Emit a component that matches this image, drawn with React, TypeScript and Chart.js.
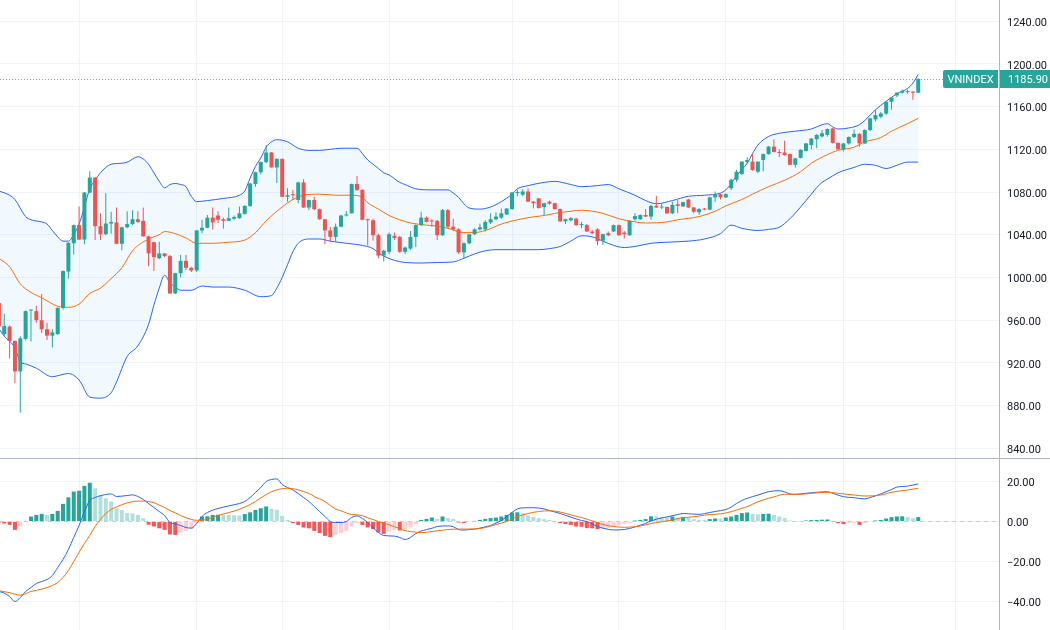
import React, { useEffect, useRef } from 'react';
import { Chart, registerables } from 'chart.js';

Chart.register(...registerables);

// ---- Daily VNINDEX candles (bar index 0..172) ----
const opens = [
  976, 947, 954, 940.5, 912, 942.5, 969, 968.5, 960, 951.5,
  945.5, 947, 971.5, 1005.5, 1032, 1049, 1035.5, 1079.5, 1093.5, 1048,
  1040.5, 1050.5, 1051.5, 1031.5, 1047, 1050, 1054.5, 1053, 1038.5, 1033,
  1018, 1022.5, 1020, 985, 1004, 1015.5, 1009, 1006.5, 1044, 1046.5,
  1056, 1058, 1054.5, 1053, 1055, 1055.5, 1059.5, 1067, 1087.5, 1098.5,
  1108, 1117, 1103, 1111, 1075.5, 1077.5, 1072.5, 1089, 1065.5, 1072.5,
  1064, 1054.5, 1044, 1038, 1047.5, 1058, 1060, 1087.5, 1082, 1054.5,
  1053.5, 1039.5, 1020.5, 1024, 1039, 1038, 1024, 1027, 1038, 1049,
  1056, 1053, 1053, 1039.5, 1063, 1047.5, 1045, 1023.5, 1032, 1040.5,
  1045, 1045, 1051.5, 1054.5, 1056, 1059, 1064, 1079, 1077.5, 1080.5,
  1071, 1074, 1066, 1071, 1069.5, 1064, 1052.5, 1053.5, 1055, 1049,
  1049, 1043, 1045, 1034.5, 1041.5, 1043, 1049, 1042, 1039.5, 1054.5,
  1054.5, 1058.5, 1057, 1067, 1065.5, 1066, 1060, 1068.5, 1066.5, 1073,
  1065.5, 1061, 1064.5, 1063.5, 1075, 1078, 1075, 1083.5, 1091.5, 1097,
  1108, 1108.5, 1099, 1110, 1115.5, 1122.5, 1117.5, 1117, 1115.5, 1105.5,
  1112, 1118.5, 1124, 1129.5, 1132, 1133.5, 1139.5, 1126, 1120, 1125.5,
  1131.5, 1134.5, 1125.5, 1138, 1148, 1150.5, 1153.5, 1164.5, 1170.5, 1173,
  1174.5, 1174, 1173,
];
const highs = [
  978, 966, 955, 941, 945, 969, 970, 973.5, 984.5, 957.5,
  951.5, 972, 1006.5, 1033, 1049.5, 1066.5, 1080, 1099.5, 1094, 1060,
  1079, 1061.5, 1065.5, 1047.5, 1062, 1063, 1062, 1065.5, 1039, 1033.5,
  1033.5, 1023, 1021, 1004.5, 1021, 1021, 1010, 1044.5, 1054, 1058.5,
  1065.5, 1062, 1056, 1065.5, 1058, 1066.5, 1067.5, 1088.5, 1099, 1108.5,
  1124, 1117.5, 1111.5, 1111.5, 1083.5, 1082, 1089.5, 1092, 1073, 1075.5,
  1064.5, 1055, 1047.5, 1050.5, 1058.5, 1062, 1088, 1095, 1082.5, 1055,
  1055, 1041, 1026, 1042, 1042, 1039, 1029, 1043.5, 1049.5, 1061.5,
  1057, 1054.5, 1054, 1064, 1064, 1055, 1046, 1033, 1041, 1046,
  1050.5, 1053.5, 1060, 1061, 1064.5, 1065, 1080, 1082, 1082.5, 1083.5,
  1071.5, 1074.5, 1070, 1072, 1070, 1064.5, 1055, 1056.5, 1056, 1052,
  1050, 1044.5, 1046, 1041, 1043, 1049.5, 1049.5, 1043.5, 1053.5, 1060,
  1059, 1064, 1068, 1076.5, 1069.5, 1066.5, 1071, 1072.5, 1071, 1073.5,
  1066, 1065, 1065, 1075.5, 1080.5, 1078.5, 1078.5, 1092.5, 1100.5, 1108.5,
  1112.5, 1116, 1108.5, 1116, 1123, 1129.5, 1120, 1128, 1116, 1112,
  1120, 1126, 1130.5, 1134, 1138, 1139.5, 1140, 1126.5, 1126, 1132,
  1138.5, 1135, 1138.5, 1149.5, 1157, 1155, 1165, 1169, 1173.5, 1176,
  1176, 1174.5, 1186.5,
];
const lows = [
  950, 945, 924, 901, 873.5, 941, 940, 957.5, 948, 941.5,
  934.5, 946, 970, 999, 1021.5, 1035, 1031, 1079, 1035, 1035,
  1039.5, 1041, 1031, 1025.5, 1046, 1049, 1051, 1038, 1010.5, 1006,
  1017, 1019, 984.5, 984.5, 1000, 1007, 1005, 1005, 1041.5, 1046,
  1045, 1051, 1045.5, 1053, 1054, 1055, 1059, 1066, 1085, 1096.5,
  1107, 1103, 1088.5, 1075, 1071, 1072.5, 1069.5, 1065, 1063, 1063,
  1054, 1031, 1033.5, 1034, 1047, 1057, 1060, 1081, 1053.5, 1030,
  1034.5, 1018, 1015, 1022, 1035, 1023, 1022, 1026, 1028.5, 1048,
  1051.5, 1047.5, 1035, 1039, 1046, 1044, 1022, 1018, 1031, 1039.5,
  1044, 1043, 1050, 1053.5, 1055, 1058.5, 1063.5, 1076, 1076, 1070.5,
  1064.5, 1064.5, 1058.5, 1068, 1063.5, 1052, 1050, 1052.5, 1048.5, 1046,
  1042.5, 1040.5, 1030, 1030.5, 1038.5, 1042.5, 1039, 1036.5, 1039, 1053,
  1054, 1056.5, 1054, 1065, 1064, 1059.5, 1059.5, 1060, 1066, 1065,
  1060, 1058.5, 1063, 1063, 1071, 1073, 1074.5, 1082, 1089.5, 1096,
  1106.5, 1100, 1097.5, 1099.5, 1115, 1117, 1112.5, 1114, 1105, 1103,
  1111.5, 1118, 1120, 1121, 1131, 1132, 1125.5, 1119.5, 1118, 1124.5,
  1130.5, 1122.5, 1125, 1137, 1146, 1149, 1152, 1157, 1169, 1172,
  1172, 1166.5, 1172.5,
];
const closes = [
  954, 954.5, 940.5, 912, 943, 968.5, 969.5, 960, 951.5, 945.5,
  948.5, 971.5, 1006, 1032.5, 1049, 1035.5, 1079.5, 1093.5, 1048, 1040.5,
  1050.5, 1052, 1031.5, 1047, 1050, 1054.5, 1052, 1038.5, 1022.5, 1019,
  1022.5, 1020, 985, 1004, 1015.5, 1009, 1006.5, 1044, 1046.5, 1056,
  1051.5, 1054, 1053, 1055.5, 1056.5, 1060, 1067, 1088, 1098.5, 1108,
  1117, 1103, 1111, 1075.5, 1077, 1077, 1089, 1065.5, 1072.5, 1064,
  1054.5, 1044, 1038, 1047.5, 1058, 1059, 1087.5, 1082, 1054, 1053.5,
  1039.5, 1020.5, 1025, 1040.5, 1037, 1024, 1028, 1038, 1049, 1056,
  1052, 1052.5, 1039.5, 1063, 1047.5, 1045, 1023.5, 1032, 1040.5, 1045,
  1047, 1052, 1054.5, 1057, 1060, 1064.5, 1079.5, 1080, 1080.5, 1071,
  1069.5, 1065, 1069.5, 1069, 1064, 1052.5, 1054.5, 1055.5, 1049, 1050,
  1043, 1041.5, 1034, 1040.5, 1039.5, 1049, 1039.5, 1040.5, 1053, 1057.5,
  1058.5, 1057, 1067, 1065.5, 1066, 1060, 1068, 1067, 1070.5, 1065.5,
  1061.5, 1064, 1063.5, 1075, 1078, 1075, 1078, 1091.5, 1099, 1108.5,
  1110, 1100.5, 1108.5, 1115.5, 1122.5, 1117.5, 1116.5, 1114.5, 1105.5, 1111.5,
  1119.5, 1125.5, 1130, 1133.5, 1135, 1139, 1126, 1120, 1125.5, 1131.5,
  1134.5, 1125.5, 1138, 1149, 1152, 1153.5, 1164.5, 1168.5, 1173, 1174.5,
  1173.5, 1173, 1185.9,
];

// ---- Bollinger Bands (20, 2): [bar index, value] ----
const bbUpper: [number, number][] = [
  [0, 1081], [2, 1077], [3, 1073], [5, 1057], [6, 1054], [8, 1052], [9, 1050], [10, 1044], [11, 1038], [12, 1034],
  [13, 1034], [14, 1040], [15, 1050], [16, 1066], [17, 1083], [18, 1091], [19, 1098], [21, 1106], [23, 1107], [24, 1108],
  [26, 1113], [27, 1111], [28, 1106], [29, 1098], [30, 1090], [31, 1084], [32, 1087], [33, 1088], [34, 1087], [35, 1085],
  [36, 1076], [37, 1071], [39, 1072], [42, 1074], [45, 1077], [46, 1081], [47, 1093], [48, 1104], [49, 1112], [50, 1122],
  [51, 1127], [52, 1129], [54, 1127], [56, 1121], [58, 1119], [60, 1119], [62, 1120], [64, 1121], [67, 1121], [68, 1116],
  [69, 1110], [70, 1106], [71, 1102], [72, 1098], [73, 1096], [75, 1089], [76, 1087], [78, 1083], [81, 1082], [84, 1082],
  [85, 1079], [86, 1075], [87, 1069], [88, 1065], [90, 1064], [92, 1066], [94, 1071], [96, 1078], [97, 1083], [99, 1086],
  [102, 1089], [104, 1090], [107, 1087], [109, 1085], [112, 1086], [114, 1087], [116, 1083], [119, 1077], [121, 1072], [123, 1069],
  [126, 1072], [129, 1076], [132, 1077], [135, 1079], [136, 1082], [137, 1088], [138, 1095], [139, 1101], [140, 1107], [141, 1116],
  [142, 1124], [144, 1132], [146, 1135], [149, 1137], [152, 1139], [154, 1143], [155, 1144], [156, 1141], [157, 1139], [159, 1140],
  [161, 1143], [162, 1147], [164, 1157], [166, 1165], [168, 1172], [170, 1177], [171, 1182], [172, 1190],
];
const bbBasis: [number, number][] = [
  [0, 1018], [2, 1010], [4, 994], [6, 986], [8, 981], [11, 973], [13, 972], [15, 975], [17, 985], [19, 990],
  [21, 999], [23, 1009], [25, 1025], [28, 1036], [30, 1040], [31, 1043], [33, 1041], [35, 1037], [37, 1032], [40, 1032],
  [43, 1033], [46, 1035], [48, 1042], [50, 1053], [53, 1066], [55, 1073], [57, 1077], [60, 1078], [63, 1077], [66, 1077],
  [68, 1075], [69, 1070], [71, 1064], [73, 1058], [75, 1054], [77, 1051], [80, 1049], [82, 1048], [84, 1046], [87, 1042],
  [89, 1042], [91, 1044], [94, 1050], [97, 1054], [99, 1056], [102, 1058], [104, 1060], [107, 1062], [109, 1063], [111, 1062],
  [113, 1060], [116, 1055], [119, 1052], [121, 1051], [125, 1052], [127, 1054], [131, 1057], [134, 1062], [136, 1067], [139, 1073],
  [141, 1078], [144, 1085], [147, 1091], [150, 1099], [152, 1107], [155, 1115], [157, 1119], [160, 1122], [162, 1127], [165, 1131],
  [167, 1137], [170, 1144], [172, 1149],
];
const bbLower: [number, number][] = [
  [0, 952], [1, 945], [3, 934], [4, 921], [5, 919], [7, 915], [10, 907], [11, 908], [13, 910], [15, 904],
  [17, 888], [19, 887], [21, 892], [22, 902], [24, 926], [26, 936], [28, 956], [29, 974], [30, 990], [31, 1002],
  [32, 995], [33, 991], [34, 988], [36, 988], [38, 992], [40, 991], [43, 991], [46, 988], [49, 982], [51, 983],
  [52, 990], [53, 1000], [54, 1012], [55, 1024], [56, 1032], [58, 1036], [60, 1036], [62, 1034], [65, 1032], [68, 1030],
  [70, 1027], [71, 1023], [72, 1020], [74, 1016], [76, 1014], [79, 1013.5], [82, 1014], [85, 1014.5], [87, 1018], [89, 1022],
  [91, 1025], [93, 1026], [97, 1026], [101, 1026], [103, 1027], [105, 1029], [107, 1034], [109, 1039], [111, 1038], [113, 1034],
  [115, 1030], [117, 1028], [119, 1029], [122, 1032], [125, 1033], [129, 1034], [132, 1036], [135, 1041], [137, 1049], [139, 1046],
  [142, 1044], [144, 1045], [146, 1047], [148, 1055], [150, 1066], [151, 1072], [152, 1078], [153, 1084], [154, 1089], [155, 1092],
  [157, 1098], [160, 1103], [162, 1106], [164, 1105], [166, 1102], [168, 1105], [170, 1108], [172, 1108],
];

// ---- MACD (12, 26, 9) ----
const macdHist = [
  -0.5, -1.0, -1.7, -4.2, -2.5, 0.3, 2.5, 3.3, 3.8, 3.3,
  3.8, 5.3, 8.8, 12.1, 15.0, 15.4, 17.8, 19.4, 16.6, 13.3,
  11.6, 10.0, 6.6, 5.8, 4.2, 4.1, 3.3, 1.6, -1.6, -2.5,
  -3.4, -4.2, -6.5, -6.7, -5.5, -4.7, -3.8, -0.8, 2.5, 2.6,
  3.3, 3.4, 3.3, 3.2, 3.1, 3.0, 3.7, 4.6, 5.8, 6.6,
  7.5, 6.3, 5.8, 2.8, 0.8, -0.8, -1.7, -3.0, -3.4, -4.7,
  -5.8, -7.2, -7.8, -6.6, -5.8, -4.7, -2.5, -0.8, -1.7, -3.0,
  -3.8, -5.5, -6.2, -5.0, -4.2, -4.5, -3.8, -3.0, -1.3, 0.8,
  1.3, 2.0, 1.3, 2.5, 1.7, 1.3, -0.5, -0.8, -0.3, 0.3,
  0.8, 1.3, 1.7, 2.0, 2.5, 3.3, 4.5, 4.6, 4.2, 3.0,
  2.2, 1.7, 1.2, 0.8, -0.3, -0.8, -1.3, -1.7, -2.5, -2.6,
  -3.3, -3.4, -3.8, -3.7, -3.3, -2.5, -1.7, -1.3, -0.8, 0.5,
  0.8, 1.2, 2.6, 2.5, 2.2, 2.0, 2.5, 2.0, 2.3, 1.8,
  1.2, 0.8, 0.7, 1.2, 1.5, 1.4, 2.0, 2.5, 3.3, 4.2,
  4.5, 3.8, 3.6, 3.8, 3.9, 3.3, 2.5, 1.7, 0.5, 0.2,
  0.1, 0.5, 0.7, 0.8, 0.9, 1.0, -0.2, -0.8, -1.3, -0.8,
  -0.7, -1.7, -0.8, -0.3, 0.5, 0.8, 1.5, 2.2, 2.5, 2.6,
  2.2, 1.7, 2.2,
];
const macdLine: [number, number][] = [
  [0, -35], [1, -35.8], [2, -37.5], [3, -40], [4, -38], [5, -35], [6, -33], [7, -31], [8, -30], [9, -29],
  [10, -27], [11, -23], [12, -19], [13, -14], [14, -8], [15, -2], [16, 5], [17, 10.5], [18, 12], [20, 13.5],
  [21, 13.8], [22, 12.5], [24, 13], [25, 13.3], [26, 12.5], [27, 11], [28, 9], [29, 7], [30, 5], [31, 3],
  [32, -0.5], [33, -1.2], [34, -2], [35, -3], [36, -3.3], [37, -1], [38, 2.5], [39, 4.5], [41, 6.5], [43, 7.8],
  [45, 9], [46, 10], [47, 12], [48, 14.5], [49, 17], [50, 20], [51, 21], [52, 21.3], [53, 18.5], [54, 17],
  [55, 15.8], [57, 12], [58, 10], [59, 7.5], [60, 5], [61, 2.5], [62, 0], [63, -0.5], [64, -0.5], [65, 0],
  [66, 2], [67, 2.8], [68, 1.5], [69, -0.5], [70, -3], [71, -5.5], [72, -7], [74, -7.3], [75, -8], [76, -9],
  [77, -8], [78, -6], [79, -4.8], [80, -4], [81, -3.4], [82, -2.5], [84, -2.2], [85, -2.6], [86, -4], [87, -4.3],
  [88, -4], [89, -3.8], [91, -2.7], [92, -2], [93, -0.8], [94, 0.5], [95, 2.5], [96, 4.5], [97, 6.3], [98, 6.8],
  [100, 6.9], [102, 6.3], [103, 5.5], [105, 4], [107, 2.2], [109, 0.5], [110, 0], [111, -1.2], [112, -2.5], [114, -3.9],
  [115, -4.2], [116, -4.2], [118, -3.5], [120, -1.8], [121, -1], [122, 0.3], [124, 1.8], [125, 2.3], [127, 3.5], [128, 4],
  [130, 3.7], [131, 3.6], [133, 4.5], [134, 5], [136, 6], [137, 7.2], [138, 9], [139, 10.5], [140, 11.6], [142, 13.2],
  [144, 14.9], [146, 15.4], [147, 14.8], [148, 13.8], [149, 13.6], [151, 14.1], [153, 14.6], [155, 14.9], [156, 14.1], [158, 12.4],
  [160, 11.9], [162, 11.3], [163, 12], [164, 12.8], [166, 14.9], [167, 16], [168, 17.2], [170, 17.7], [171, 18.2], [172, 18.8],
];
const macdSignal: [number, number][] = [
  [0, -34.6], [2, -35.6], [4, -36.8], [6, -35], [8, -33.8], [10, -32], [11, -30.5], [12, -28], [13, -24.5], [14, -20],
  [15, -15.5], [16, -11], [17, -7], [18, -2.5], [19, 1], [20, 4], [21, 6], [22, 7.3], [23, 8.4], [24, 9.3],
  [26, 10.2], [27, 10.2], [28, 10], [29, 9.4], [30, 8.2], [31, 7], [32, 5.5], [33, 4.3], [34, 3], [36, 1],
  [37, 0.6], [38, 0.7], [39, 1.2], [41, 3], [43, 4.5], [44, 5.2], [46, 7.2], [48, 10], [49, 11.8], [51, 14.9],
  [52, 15.8], [53, 16.4], [54, 16.6], [55, 16.4], [56, 15.8], [58, 14], [59, 12.5], [61, 10], [62, 8], [63, 6.3],
  [64, 5.3], [66, 3.5], [68, 3], [69, 1.8], [70, 1], [71, 0], [72, -0.8], [74, -2.6], [76, -4.6], [77, -5],
  [79, -5.6], [81, -5], [82, -4.7], [84, -4], [86, -3.8], [89, -3.75], [91, -3], [93, -1.5], [95, 0], [97, 2.5],
  [98, 3.3], [100, 4.6], [101, 5], [103, 5.4], [104, 5.2], [106, 4.1], [108, 2.6], [109, 2], [111, 0.3], [113, -1.5],
  [115, -2.5], [117, -2.9], [119, -2.6], [120, -2.3], [122, -1], [123, -0.6], [125, 0.3], [126, 0.75], [128, 2], [129, 2.1],
  [131, 2.75], [133, 3.5], [135, 3.8], [137, 4.9], [139, 6.6], [140, 7.4], [142, 9.9], [144, 11.6], [145, 12.3], [147, 13.6],
  [150, 13.6], [152, 14.1], [155, 14.6], [157, 14.1], [160, 13.25], [162, 12.75], [165, 13.25], [167, 14.6], [170, 15.75], [172, 16.6],
];

// ---- Axes ----
const priceTicks = [840, 880, 920, 960, 1000, 1040, 1080, 1120, 1160, 1200, 1240];
const macdTicks = [-40, -20, 0, 20];
const monthStarts = [15, 37, 53, 73, 96, 116, 136, 158, 179];
const symbol = 'VNINDEX';

// ---- Layout & style ----
const W = 1050;
const TOP_H = 459;
const BOT_H = 171;
const AXIS_W = 51;
const BAR_PX = 5.345;
const X_MIN = 1.1 / BAR_PX;
const X_MAX = X_MIN + (W - AXIS_W) / BAR_PX;

const UP = '#26a69a';
const DOWN = '#ef5350';
const GRID = '#f0f3fa';
const AXIS_LINE = '#b2b5be';
const TEXT = '#131722';
const BLUE = '#2962ff';
const ORANGE = '#ff6d00';
const BAND_FILL = 'rgba(33, 150, 243, 0.06)';
const FONT = { family: 'Roboto, sans-serif', size: 11 };

const fmt = (v: number) => (v < 0 ? '\u2212' : '') + Math.abs(v).toFixed(2);
const pts = (arr: [number, number][]) => arr.map(([x, y]) => ({ x, y }));
const candleColors = closes.map((c, i) => (c >= opens[i] ? UP : DOWN));
const histColors = macdHist.map((v, i) => {
  const prev = i > 0 ? macdHist[i - 1] : v + (v >= 0 ? -1 : 1);
  if (v >= 0) return prev < v ? '#26a69a' : '#b2dfdb';
  return prev < v ? '#ffcdd2' : '#ff5252';
});

function xAxis() {
  return {
    type: 'linear' as const,
    min: X_MIN,
    max: X_MAX,
    offset: false,
    afterBuildTicks: (s: any) => {
      s.ticks = monthStarts.map((value) => ({ value }));
    },
    ticks: { display: false },
    grid: { color: GRID, drawTicks: false, offset: false },
    border: { display: false },
    afterFit: (s: any) => {
      s.height = 0;
      s.paddingLeft = 0;
      s.paddingRight = 0;
      s.paddingTop = 0;
      s.paddingBottom = 0;
    },
  };
}

function yAxis(min: number, max: number, ticks: number[]) {
  return {
    type: 'linear' as const,
    position: 'right' as const,
    min,
    max,
    afterBuildTicks: (s: any) => {
      s.ticks = ticks.map((value) => ({ value }));
    },
    ticks: {
      padding: 8,
      labelOffset: 2,
      color: TEXT,
      font: FONT,
      callback: (v: any) => fmt(Number(v)),
    },
    grid: { color: GRID, drawTicks: false },
    border: { display: true, color: AXIS_LINE },
    afterFit: (s: any) => {
      s.width = AXIS_W;
      s.paddingTop = 0;
      s.paddingBottom = 0;
    },
  };
}

const baseOptions = {
  responsive: false,
  maintainAspectRatio: false,
  animation: false as const,
  devicePixelRatio: 1,
  events: [] as any[],
  layout: { padding: 0 },
};

// Last-price marker: dotted line, symbol tag and value tag on the price axis
const lastPricePlugin = {
  id: 'lastPrice',
  afterDatasetsDraw(chart: any) {
    const { ctx, chartArea, scales } = chart;
    const py = Math.round(scales.y.getPixelForValue(closes[closes.length - 1])) + 0.5;
    ctx.save();
    ctx.strokeStyle = UP;
    ctx.globalAlpha = 0.75;
    ctx.lineWidth = 1;
    ctx.setLineDash([1, 2]);
    ctx.beginPath();
    ctx.moveTo(chartArea.left, py);
    ctx.lineTo(chartArea.right, py);
    ctx.stroke();
    ctx.restore();
  },
  afterDraw(chart: any) {
    const { ctx, chartArea, scales, width, height } = chart;
    const last = closes[closes.length - 1];
    const py = Math.round(scales.y.getPixelForValue(last));
    const boxH = 18;
    ctx.save();
    ctx.font = `${FONT.size}px ${FONT.family}`;
    ctx.textBaseline = 'middle';
    // symbol tag
    const tw = ctx.measureText(symbol).width;
    const bw = Math.round(tw + 9);
    const bx = Math.round(chartArea.right) - 1 - bw;
    ctx.fillStyle = UP;
    ctx.beginPath();
    ctx.roundRect(bx, py - boxH / 2, bw, boxH, [2, 0, 0, 2]);
    ctx.fill();
    ctx.fillStyle = '#ffffff';
    ctx.textAlign = 'left';
    ctx.fillText(symbol, bx + 4.5, py + 1);
    // value tag
    const vx = Math.round(chartArea.right) + 1;
    ctx.fillStyle = UP;
    ctx.fillRect(vx, py - boxH / 2, width - vx, boxH);
    ctx.fillStyle = '#ffffff';
    ctx.fillText(last.toFixed(2), vx + 8, py + 1);
    // pane separator
    ctx.strokeStyle = AXIS_LINE;
    ctx.lineWidth = 1;
    ctx.beginPath();
    ctx.moveTo(0, height - 0.5);
    ctx.lineTo(width, height - 0.5);
    ctx.stroke();
    ctx.restore();
  },
};

// Dashed zero line of the MACD pane
const zeroLinePlugin = {
  id: 'zeroLine',
  beforeDatasetsDraw(chart: any) {
    const { ctx, chartArea, scales } = chart;
    const py = Math.round(scales.y.getPixelForValue(0)) + 0.5;
    ctx.save();
    ctx.strokeStyle = 'rgba(120, 123, 134, 0.3)';
    ctx.lineWidth = 1;
    ctx.setLineDash([4, 4]);
    ctx.beginPath();
    ctx.moveTo(chartArea.left, py);
    ctx.lineTo(chartArea.right, py);
    ctx.stroke();
    ctx.restore();
  },
};

function priceConfig(): any {
  return {
    type: 'bar',
    data: {
      datasets: [
        {
          label: 'body',
          data: opens.map((o, i) => ({ x: i, y: [o, closes[i]] })),
          backgroundColor: candleColors,
          borderWidth: 0,
          grouped: false,
          categoryPercentage: 1,
          barPercentage: 0.8,
          maxBarThickness: 4,
          minBarLength: 1,
        },
        {
          label: 'wick',
          data: lows.map((l, i) => ({ x: i, y: [l, highs[i]] })),
          backgroundColor: candleColors,
          borderWidth: 0,
          grouped: false,
          categoryPercentage: 1,
          barPercentage: 0.8,
          maxBarThickness: 1,
        },
        {
          type: 'line',
          label: 'Upper',
          data: pts(bbUpper),
          borderColor: BLUE,
          borderWidth: 1,
          pointRadius: 0,
          cubicInterpolationMode: 'monotone',
          fill: '+2',
          backgroundColor: BAND_FILL,
        },
        {
          type: 'line',
          label: 'Basis',
          data: pts(bbBasis),
          borderColor: ORANGE,
          borderWidth: 1,
          pointRadius: 0,
          cubicInterpolationMode: 'monotone',
          fill: false,
        },
        {
          type: 'line',
          label: 'Lower',
          data: pts(bbLower),
          borderColor: BLUE,
          borderWidth: 1,
          pointRadius: 0,
          cubicInterpolationMode: 'monotone',
          fill: false,
        },
      ],
    },
    options: {
      ...baseOptions,
      scales: { x: xAxis(), y: yAxis(830, 1259.8, priceTicks) },
      plugins: {
        legend: { display: false },
        tooltip: { enabled: false },
        filler: { drawTime: 'beforeDatasetsDraw' },
      },
    },
    plugins: [lastPricePlugin],
  };
}

function macdConfig(): any {
  return {
    type: 'bar',
    data: {
      datasets: [
        {
          type: 'line',
          label: 'Signal',
          data: pts(macdSignal),
          borderColor: ORANGE,
          borderWidth: 1,
          pointRadius: 0,
          cubicInterpolationMode: 'monotone',
          fill: false,
        },
        {
          type: 'line',
          label: 'MACD',
          data: pts(macdLine),
          borderColor: BLUE,
          borderWidth: 1,
          pointRadius: 0,
          cubicInterpolationMode: 'monotone',
          fill: false,
        },
        {
          label: 'Histogram',
          data: macdHist.map((v, i) => ({ x: i, y: v })),
          backgroundColor: histColors,
          borderWidth: 0,
          grouped: false,
          categoryPercentage: 1,
          barPercentage: 0.8,
          maxBarThickness: 4,
        },
      ],
    },
    options: {
      ...baseOptions,
      scales: { x: xAxis(), y: yAxis(-54.25, 31.25, macdTicks) },
      plugins: { legend: { display: false }, tooltip: { enabled: false } },
    },
    plugins: [zeroLinePlugin],
  };
}

export default function App() {
  const topRef = useRef<HTMLCanvasElement>(null);
  const botRef = useRef<HTMLCanvasElement>(null);

  useEffect(() => {
    const top = new Chart(topRef.current as HTMLCanvasElement, priceConfig());
    const bot = new Chart(botRef.current as HTMLCanvasElement, macdConfig());
    return () => {
      top.destroy();
      bot.destroy();
    };
  }, []);

  return (
    <div style={{ position: 'fixed', left: 0, top: 0, width: W, height: TOP_H + BOT_H, background: '#ffffff' }}>
      <canvas ref={topRef} width={W} height={TOP_H} style={{ display: 'block', width: W, height: TOP_H }} />
      <canvas ref={botRef} width={W} height={BOT_H} style={{ display: 'block', width: W, height: BOT_H }} />
    </div>
  );
}
